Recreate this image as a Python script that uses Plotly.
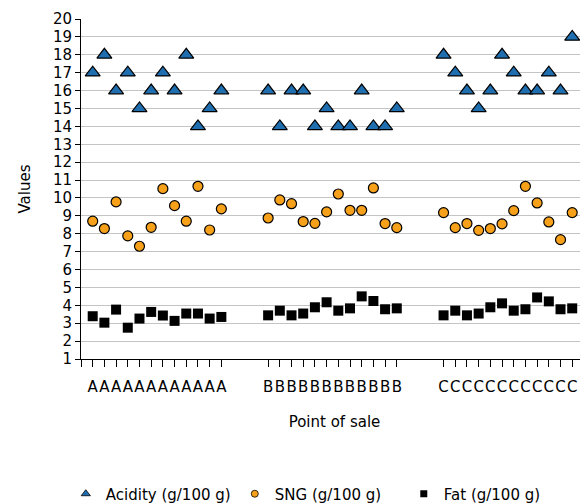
import plotly.graph_objects as go

groups = ["A", "B", "C"]
n_per_group = 12
group_gap = 3  # empty category slots between groups

acidity = [
    17, 18, 16, 17, 15, 16, 17, 16, 18, 14, 15, 16,
    16, 14, 16, 16, 14, 15, 14, 14, 16, 14, 14, 15,
    18, 17, 16, 15, 16, 18, 17, 16, 16, 17, 16, 19,
]
sng = [
    8.70, 8.29, 9.78, 7.88, 7.30, 8.36, 10.52, 9.57, 8.70, 10.65, 8.21, 9.39,
    8.88, 9.89, 9.68, 8.68, 8.58, 9.22, 10.22, 9.31, 9.31, 10.56, 8.57, 8.34,
    9.18, 8.34, 8.57, 8.19, 8.29, 8.55, 9.29, 10.65, 9.72, 8.66, 7.67, 9.18,
]
fat = [
    3.39, 3.03, 3.76, 2.75, 3.26, 3.63, 3.43, 3.13, 3.54, 3.54, 3.26, 3.35,
    3.44, 3.70, 3.44, 3.54, 3.89, 4.17, 3.70, 3.83, 4.50, 4.24, 3.78, 3.83,
    3.44, 3.70, 3.44, 3.54, 3.89, 4.11, 3.70, 3.78, 4.44, 4.22, 3.78, 3.83,
]
series_names = ["Acidity (g/100 g)", "SNG (g/100 g)", "Fat (g/100 g)"]

# category positions on the axis
x_pos = []
labels = []
for gi, g in enumerate(groups):
    start = 1 + gi * (n_per_group + group_gap)
    for k in range(n_per_group):
        x_pos.append(start + k)
        labels.append(g)

FONT = "DejaVu Sans"
styles = [
    dict(symbol="triangle-up", size=13, color="#1f6fb0", line=dict(color="black", width=1.2)),
    dict(symbol="circle", size=10, color="#f7a11a", line=dict(color="black", width=1.2)),
    dict(symbol="square", size=10, color="black", line=dict(color="black", width=0)),
]
legend_styles = [
    dict(symbol="triangle-up", size=8, color="#1f6fb0", line=dict(color="black", width=0.8)),
    dict(symbol="circle", size=7, color="#f7a11a", line=dict(color="black", width=0.8)),
    dict(symbol="square", size=7, color="black", line=dict(color="black", width=0)),
]

fig = go.Figure()
for name, vals, st, lst in zip(series_names, [acidity, sng, fat], styles, legend_styles):
    fig.add_trace(go.Scatter(
        x=x_pos, y=vals, mode="markers", name=name, legendgroup=name,
        showlegend=False, marker=st, cliponaxis=False,
    ))
    # legend-only entry with smaller symbol, like the reference legend
    fig.add_trace(go.Scatter(
        x=[None], y=[None], mode="markers", name=name, legendgroup=name,
        showlegend=True, marker=lst,
    ))

# the page body adds an 8px offset, so the figure is sized to fill the window
fig.update_layout(
    width=580, height=496,
    margin=dict(l=73, r=0, t=11, b=145, autoexpand=False),
    paper_bgcolor="white", plot_bgcolor="white",
    font=dict(family=FONT, size=15, color="black"),
    showlegend=True,
    legend=dict(orientation="h", x=-0.03, xanchor="left", y=-0.397, yanchor="middle",
                font=dict(size=15), entrywidth=124, entrywidthmode="pixels",
                itemwidth=30, tracegroupgap=0),
)
fig.update_xaxes(
    range=[0, 43.35], showgrid=False, zeroline=False, automargin=False,
    showline=True, linecolor="black", linewidth=1,
    tickmode="array", tickvals=[0] + x_pos, ticktext=[""] + labels, tickangle=0,
    ticks="outside", ticklen=7, tickcolor="black", tickwidth=1,
    ticklabelstandoff=7,
    tickfont=dict(size=15),
    title=dict(text="Point of sale", font=dict(size=15), standoff=21),
)
fig.update_yaxes(
    range=[1, 20], dtick=1, tick0=1, automargin=False,
    showgrid=True, gridcolor="#c4c4c4", gridwidth=1,
    zeroline=False, showline=True, linecolor="black", linewidth=1,
    ticks="outside", ticklen=5, tickcolor="black",
    tickfont=dict(size=15),
    title=dict(text="Values", font=dict(size=15), standoff=18),
)

fig.write_html("out.html")
